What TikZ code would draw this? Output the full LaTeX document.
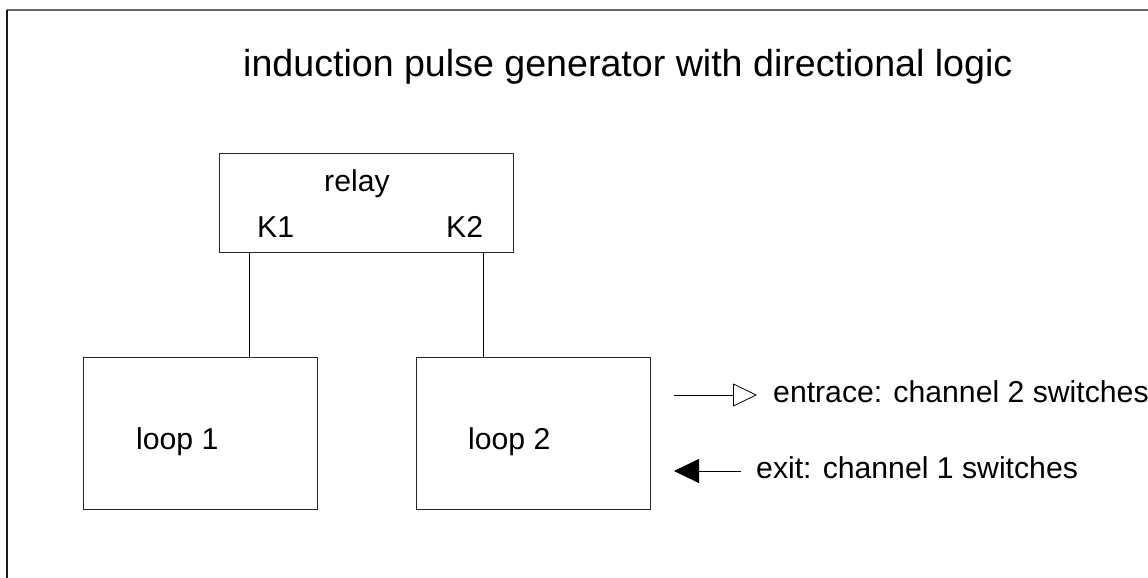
\documentclass[tikz,border=0pt]{standalone}
\usepackage{fontspec}
\setmainfont{Liberation Sans}
\usetikzlibrary{arrows.meta}
\begin{document}
\begin{tikzpicture}[x=1pt,y=-1pt,
  box/.style={draw=black!85,line width=1pt,rectangle,inner sep=0pt},
  lbl/.style={anchor=base west,inner sep=0pt,font=\fontsize{30.2}{35}\selectfont},
  wire/.style={draw=black,line width=0.9pt},
  frameline/.style={line width=1.2pt}]
\useasboundingbox (0,0) rectangle (1148,578);
% frame
\coordinate (ftl) at (7,10);
\coordinate (ftr) at (1148,10);
\coordinate (fbl) at (7,578);
\draw[frameline,draw=black!60] (ftl) -- (ftr);
\draw[frameline,draw=black!90] (ftl) -- (fbl);
% title
\node[anchor=base west,inner sep=0pt,font=\fontsize{37.6}{44}\selectfont] (title) at (243,76) {induction pulse generator with directional logic};
% boxes
\node[box,minimum width=294pt,minimum height=99pt] (relay) at (366,202.5) {};
\node[box,minimum width=234pt,minimum height=152pt] (loop1) at (200,433) {};
\node[box,minimum width=234pt,minimum height=152pt] (loop2) at (533,433) {};
% labels
\node[lbl] (relaylbl) at (324,191.5) {relay};
\node[lbl] (k1) at (257,237) {K1};
\node[lbl] (k2) at (446,237) {K2};
\node[lbl] (l1) at (136,449) {loop 1};
\node[lbl] (l2) at (468,449) {loop 2};
% connectors
\coordinate (c1) at (249.3,0);
\coordinate (c2) at (483.7,0);
\draw[wire] (relay.south -| c1) -- (loop1.north -| c1);
\draw[wire] (relay.south -| c2) -- (loop2.north -| c2);
% legend arrows
\coordinate (ea) at (674,395);
\coordinate (eb) at (757,395);
\draw[wire,-{Triangle[open,length=24pt,width=23pt,line width=0.8pt]}] (ea) -- (eb);
\node[lbl] (entr) at (773,402) {entrace: channel 2 switches};
\coordinate (xa) at (741,471);
\coordinate (xb) at (674,471);
\draw[wire,-{Triangle[length=25pt,width=24pt]}] (xa) -- (xb);
\node[lbl] (exitl) at (756,478) {exit: channel 1 switches};
\end{tikzpicture}
\end{document}
